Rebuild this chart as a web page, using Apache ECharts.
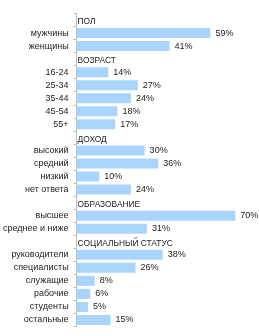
<!DOCTYPE html>
<html>
<head>
<meta charset="utf-8">
<script src="https://cdn.jsdelivr.net/npm/echarts@6/dist/echarts.min.js"></script>
<style>
  html, body { margin: 0; padding: 0; background: #fff; }
  #chart { width: 259px; height: 336px; }
</style>
</head>
<body>
<div id="chart"></div>
<script>
  // строки графика: заголовки групп и категории
  const categories = [
    'ПОЛ', 'мужчины', 'женщины',
    'ВОЗРАСТ', '16-24', '25-34', '35-44', '45-54', '55+',
    'ДОХОД', 'высокий', 'средний', 'низкий', 'нет ответа',
    'ОБРАЗОВАНИЕ', 'высшее', 'среднее и ниже',
    'СОЦИАЛЬНЫЙ СТАТУС', 'руководители', 'специалисты', 'служащие', 'рабочие', 'студенты', 'остальные'
  ]
  const headers = ['ПОЛ', 'ВОЗРАСТ', 'ДОХОД', 'ОБРАЗОВАНИЕ', 'СОЦИАЛЬНЫЙ СТАТУС']
  // проценты (null для строк-заголовков)
  const values = [
    null, 59, 41,
    null, 14, 27, 24, 18, 17,
    null, 30, 36, 10, 24,
    null, 70, 31,
    null, 38, 26, 8, 6, 5, 15
  ]

  const myChart = echarts.init(document.getElementById('chart'))
  const font = 'Liberation Sans, Arial, sans-serif'

  const options = {
    animation: false,
    grid: { left: 74, width: 184, top: 13.5, height: 313 },
    xAxis: {
      type: 'value', min: 0, max: 80, show: false
    },
    yAxis: {
      type: 'category',
      data: categories,
      inverse: true,
      axisLine: { lineStyle: { color: '#bbbbbb' } },
      axisTick: { show: true, length: 3, lineStyle: { color: '#bbbbbb' } },
      axisLabel: {
        margin: 8,
        fontFamily: font,
        fontSize: 9,
        color: '#222',
        formatter: v => headers.includes(v) ? '' : v
      }
    },
    series: [
      {
        type: 'bar',
        data: values,
        barWidth: 10,
        barGap: '-100%',
        itemStyle: { color: '#a9d4fd' },
        label: {
          show: true,
          position: 'right',
          distance: 5,
          fontFamily: font,
          fontSize: 9,
          color: '#222',
          formatter: p => p.value + '%'
        }
      },
      {
        // заголовки групп как подписи у нулевых столбцов
        type: 'bar',
        data: categories.map(c => headers.includes(c) ? 0 : null),
        barWidth: 10,
        itemStyle: { color: 'transparent' },
        label: {
          show: true,
          position: 'right',
          distance: 1,
          offset: [0, 2],
          fontFamily: font,
          fontSize: 8.4,
          color: '#222',
          formatter: p => p.name
        }
      }
    ]
  }
  myChart.setOption(options)
</script>
</body>
</html>
